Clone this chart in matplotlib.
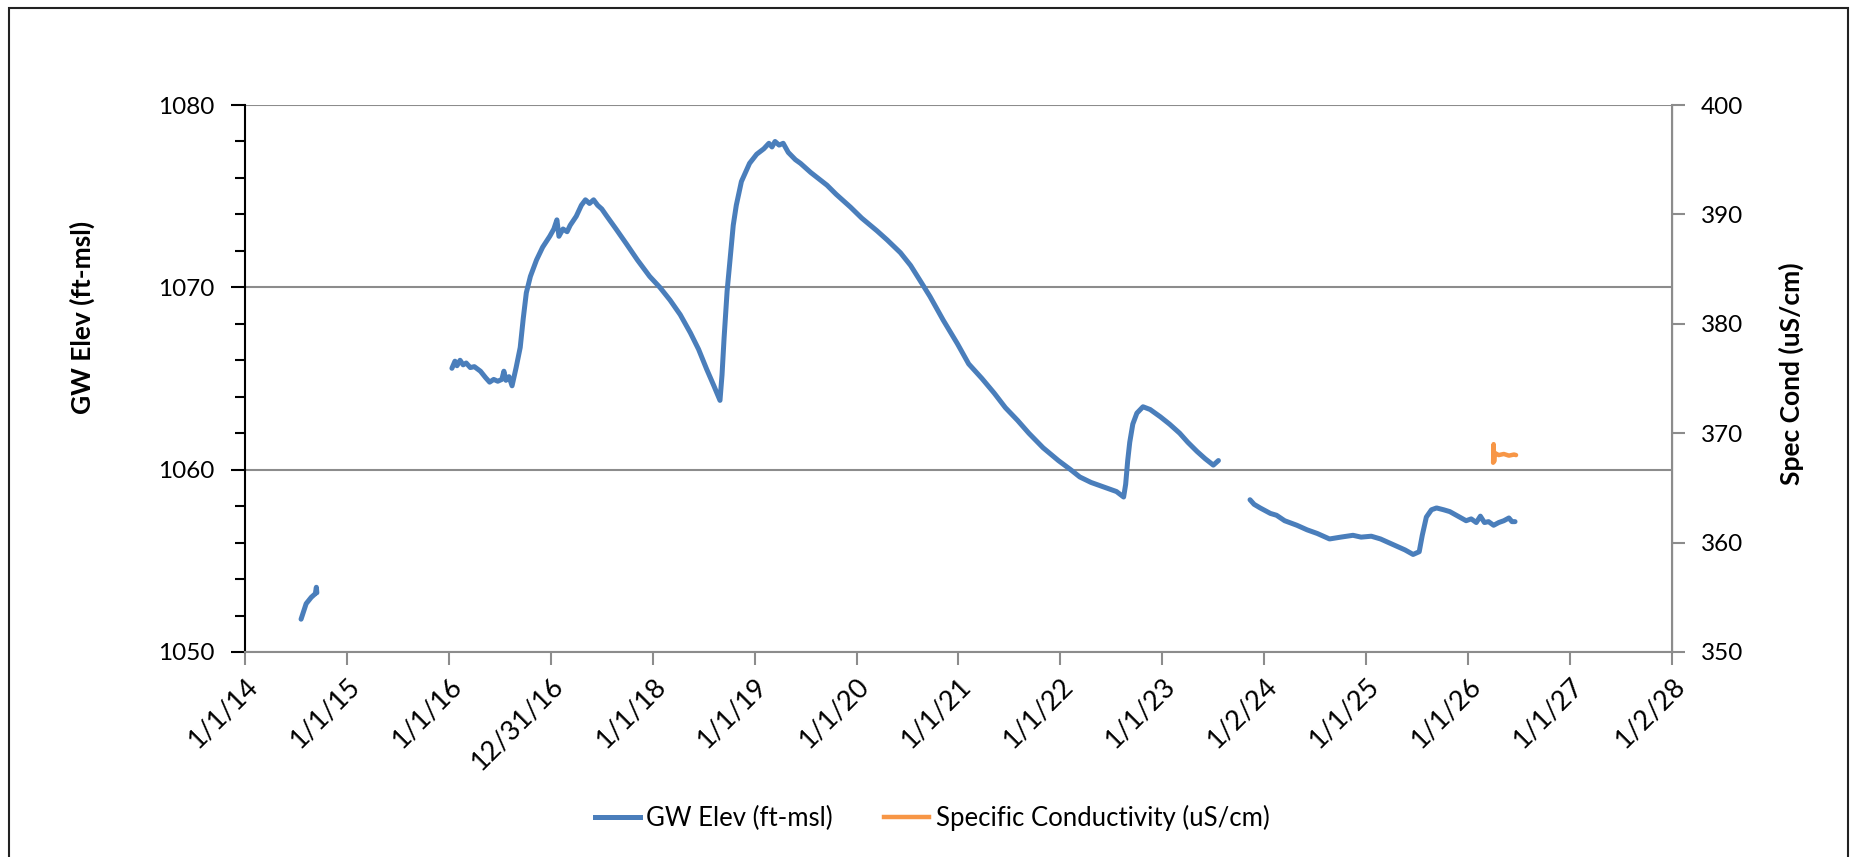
import numpy as np
import matplotlib
matplotlib.use('Agg')
import matplotlib.pyplot as plt
from matplotlib.patches import Rectangle
from matplotlib.lines import Line2D
from matplotlib.ticker import MultipleLocator

plt.rcParams['font.family'] = ['Lato', 'DejaVu Sans']

# ---------------- data ----------------
x_tick_years = [2014, 2015, 2016, 2017, 2018, 2019, 2020, 2021, 2022, 2023,
                2024, 2025, 2026, 2027, 2028]
x_tick_labels = ['1/1/14', '1/1/15', '1/1/16', '12/31/16', '1/1/18', '1/1/19',
                 '1/1/20', '1/1/21', '1/1/22', '1/1/23', '1/2/24', '1/1/25',
                 '1/1/26', '1/1/27', '1/2/28']

gw_seg1_t = [2014.55, 2014.60, 2014.65, 2014.69, 2014.70, 2014.705]
gw_seg1_v = [1051.8, 1052.65, 1053.0, 1053.2, 1053.55, 1053.25]

gw_seg2_t = [2016.03, 2016.06, 2016.08, 2016.11, 2016.14, 2016.17, 2016.21, 2016.25,
             2016.31, 2016.36, 2016.40, 2016.44, 2016.48, 2016.52, 2016.54, 2016.56,
             2016.59, 2016.62, 2016.66, 2016.70, 2016.73, 2016.76, 2016.80, 2016.86,
             2016.92, 2016.99, 2017.03, 2017.06, 2017.08, 2017.12, 2017.16, 2017.19,
             2017.25, 2017.30, 2017.34, 2017.38, 2017.42, 2017.46, 2017.50, 2017.55,
             2017.64, 2017.74, 2017.85, 2017.97, 2018.07, 2018.17, 2018.27, 2018.37,
             2018.45, 2018.53, 2018.60, 2018.66, 2018.68, 2018.70, 2018.73, 2018.76,
             2018.79, 2018.82, 2018.87, 2018.95, 2019.02, 2019.09, 2019.14, 2019.17,
             2019.20, 2019.24, 2019.28, 2019.33, 2019.40, 2019.45, 2019.55, 2019.71,
             2019.80, 2019.94, 2020.05, 2020.20, 2020.30, 2020.43, 2020.53, 2020.62,
             2020.72, 2020.85, 2020.99, 2021.10, 2021.23, 2021.35, 2021.46, 2021.58,
             2021.69, 2021.83, 2021.98, 2022.10, 2022.19, 2022.30, 2022.45, 2022.55,
             2022.62, 2022.64, 2022.66, 2022.68, 2022.71, 2022.75, 2022.81, 2022.88,
             2022.98, 2023.07, 2023.17, 2023.25, 2023.34, 2023.42, 2023.50, 2023.55]
gw_seg2_v = [1065.56, 1065.95, 1065.7, 1066.0, 1065.75, 1065.85, 1065.6, 1065.65,
             1065.4, 1065.05, 1064.8, 1064.95, 1064.85, 1064.95, 1065.4, 1064.9,
             1065.1, 1064.6, 1065.6, 1066.7, 1068.3, 1069.7, 1070.6, 1071.5,
             1072.2, 1072.8, 1073.2, 1073.7, 1072.8, 1073.2, 1073.05, 1073.4,
             1073.9, 1074.5, 1074.8, 1074.6, 1074.8, 1074.5, 1074.3, 1073.9,
             1073.2, 1072.4, 1071.5, 1070.6, 1070.0, 1069.3, 1068.5, 1067.5,
             1066.6, 1065.5, 1064.6, 1063.8, 1065.2, 1067.2, 1069.8, 1071.6,
             1073.4, 1074.5, 1075.8, 1076.8, 1077.3, 1077.6, 1077.9, 1077.7,
             1078.0, 1077.8, 1077.9, 1077.4, 1077.0, 1076.8, 1076.3, 1075.6,
             1075.1, 1074.4, 1073.8, 1073.1, 1072.6, 1071.9, 1071.2, 1070.4,
             1069.5, 1068.2, 1066.9, 1065.8, 1065.0, 1064.2, 1063.4, 1062.7,
             1062.0, 1061.2, 1060.5, 1060.0, 1059.6, 1059.3, 1059.0, 1058.8,
             1058.5, 1059.2, 1060.5, 1061.5, 1062.5, 1063.1, 1063.45, 1063.3,
             1062.9, 1062.5, 1062.0, 1061.5, 1061.0, 1060.6, 1060.25, 1060.5]

gw_seg3_t = [2023.86, 2023.90, 2023.96, 2024.06, 2024.12, 2024.20, 2024.32, 2024.42,
             2024.52, 2024.64, 2024.75, 2024.87, 2024.95, 2025.05, 2025.14, 2025.22,
             2025.30, 2025.38, 2025.46, 2025.52, 2025.55, 2025.59, 2025.64, 2025.69,
             2025.76, 2025.82, 2025.90, 2025.98, 2026.03, 2026.08, 2026.12, 2026.16,
             2026.20, 2026.25, 2026.30, 2026.35, 2026.40, 2026.43, 2026.46]
gw_seg3_v = [1058.35, 1058.1, 1057.9, 1057.6, 1057.5, 1057.2, 1056.95, 1056.7,
             1056.5, 1056.2, 1056.3, 1056.4, 1056.3, 1056.35, 1056.2, 1056.0,
             1055.8, 1055.6, 1055.35, 1055.5, 1056.4, 1057.4, 1057.8, 1057.9,
             1057.8, 1057.7, 1057.45, 1057.2, 1057.3, 1057.1, 1057.45, 1057.1,
             1057.15, 1056.95, 1057.1, 1057.2, 1057.35, 1057.15, 1057.15]

sc_t = [2026.245, 2026.25, 2026.255, 2026.26, 2026.30, 2026.35, 2026.40, 2026.45, 2026.47]
sc_v = [367.3, 369.0, 367.4, 368.2, 368.0, 368.1, 367.95, 368.05, 368.0]

gw_label = 'GW Elev (ft-msl)'
sc_label = 'Specific Conductivity (uS/cm)'
left_ylabel = 'GW Elev (ft-msl)'
right_ylabel = 'Spec Cond (uS/cm)'

# ---------------- styling ----------------
BLUE = '#4A7EBB'
ORANGE = '#F79646'
GRAY = '#8C8C8C'
FS = 17.5

fig = plt.figure(figsize=(18.55, 8.57), dpi=100)
ax = fig.add_axes([245/1855, 1-652/857, (1672-245)/1855, (652-105)/857])
ax2 = ax.twinx()

for t, v in [(gw_seg1_t, gw_seg1_v), (gw_seg2_t, gw_seg2_v), (gw_seg3_t, gw_seg3_v)]:
    ax.plot(t, v, color=BLUE, lw=3.6, solid_capstyle='round', solid_joinstyle='round', zorder=3)
ax2.plot(sc_t, sc_v, color=ORANGE, lw=3.2, solid_capstyle='round', zorder=3)

ax.set_xlim(x_tick_years[0], x_tick_years[-1])
ax.set_ylim(1050, 1080)
ax2.set_ylim(350, 400)

ax.set_xticks(x_tick_years)
ax.set_xticklabels(x_tick_labels, rotation=45, ha='right', rotation_mode='anchor')
ax.set_yticks([1050, 1060, 1070, 1080])
ax.yaxis.set_minor_locator(MultipleLocator(2))
ax2.set_yticks([350, 360, 370, 380, 390, 400])

ax.grid(axis='y', which='major', color=GRAY, lw=1.5, zorder=0)
ax.set_axisbelow(True)

for s in ['top']:
    ax.spines[s].set_visible(False)
    ax2.spines[s].set_visible(False)
ax.spines['left'].set_color('black')
ax.spines['left'].set_linewidth(1.5)
ax.spines['bottom'].set_color(GRAY)
ax.spines['bottom'].set_linewidth(1.5)
ax2.spines['right'].set_color(GRAY)
ax2.spines['right'].set_linewidth(1.5)
ax2.spines['left'].set_visible(False)
ax2.spines['bottom'].set_visible(False)

ax.tick_params(axis='y', which='major', direction='out', length=10, width=1.5,
               color='black', labelsize=FS, pad=12)
ax.tick_params(axis='y', which='minor', direction='out', length=7, width=1.5,
               color='black')
ax.tick_params(axis='x', which='major', direction='out', length=9, width=1.5,
               color=GRAY, labelsize=19.5, pad=6)
ax2.tick_params(axis='y', direction='out', length=9, width=1.5, color=GRAY,
                labelsize=FS, pad=12)

fig.text(82/1855, 1-317/857, left_ylabel, rotation=90, ha='center', va='center',
         fontsize=19, fontweight='bold')
fig.text(1791/1855, 1-374/857, right_ylabel, rotation=90, ha='center', va='center',
         fontsize=19, fontweight='bold')

handles = [Line2D([], [], color=BLUE, lw=3.6), Line2D([], [], color=ORANGE, lw=3.2)]
fig.legend(handles, [gw_label, sc_label], loc='center', bbox_to_anchor=(932/1855, 1-818/857),
           ncol=2, frameon=False, fontsize=18.5, handlelength=1.75, handletextpad=0.25,
           columnspacing=2.0)

fig.patches.append(Rectangle((9/1855, -0.02), (1848-9)/1855, 1-8/857+0.02,
                             transform=fig.transFigure, fill=False, edgecolor='#222222',
                             lw=1.5, clip_on=False))

fig.savefig('out.png', dpi=100)
